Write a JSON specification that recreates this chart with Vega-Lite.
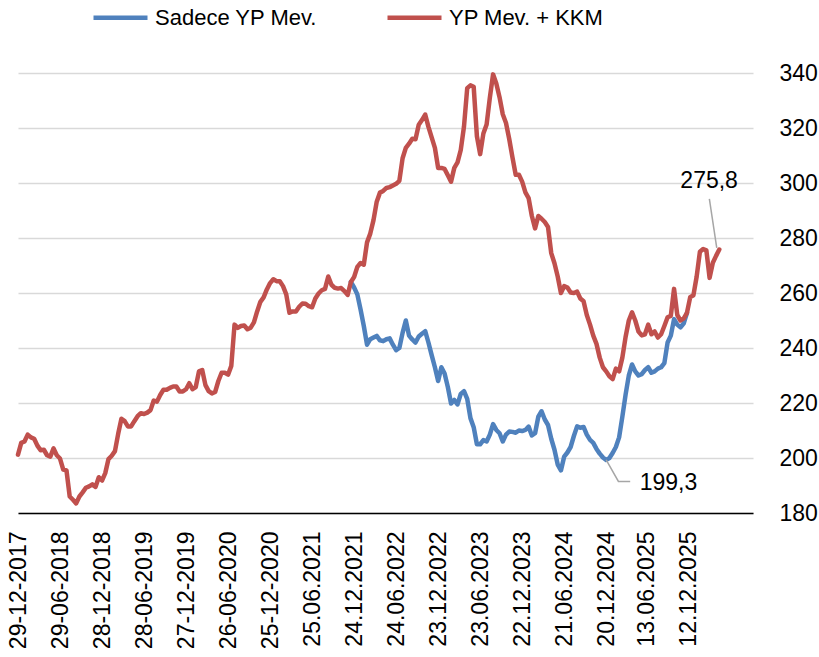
{
  "$schema": "https://vega.github.io/schema/vega-lite/v6.json",
  "autosize": {"type": "none"},
  "width": 735,
  "height": 440,
  "padding": {"left": 18, "right": 66, "top": 73, "bottom": 144},
  "background": "white",
  "config": {
    "view": {"stroke": null},
    "axis": {"labelFont": "Liberation Sans", "labelFontSize": 23, "labelColor": "#000000", "title": null},
    "legend": {"labelFont": "Liberation Sans", "labelFontSize": 22, "labelColor": "#000000", "labelLimit": 400}
  },
  "datasets": {
    "series": [
      {"d":"2017-12-29","r":201.2},{"d":"2018-01-12","r":205.5},{"d":"2018-01-26","r":206},{"d":"2018-02-09","r":208.5},{"d":"2018-02-23","r":207.5},{"d":"2018-03-09","r":207},{"d":"2018-03-23","r":204.5},{"d":"2018-04-06","r":202.8},{"d":"2018-04-20","r":203},{"d":"2018-05-04","r":201},{"d":"2018-05-18","r":200.5},{"d":"2018-06-01","r":203.5},{"d":"2018-06-15","r":201},{"d":"2018-06-29","r":199.8},{"d":"2018-07-13","r":195.8},{"d":"2018-07-27","r":195.5},{"d":"2018-08-10","r":186},{"d":"2018-08-24","r":184.8},{"d":"2018-09-07","r":183.5},{"d":"2018-09-21","r":186},{"d":"2018-10-05","r":187.5},{"d":"2018-10-19","r":189.2},{"d":"2018-11-02","r":189.7},{"d":"2018-11-16","r":190.4},{"d":"2018-11-30","r":189.5},{"d":"2018-12-14","r":193},{"d":"2018-12-28","r":191.8},
      {"d":"2019-01-11","r":194.5},{"d":"2019-01-25","r":199.6},{"d":"2019-02-08","r":200.8},{"d":"2019-02-22","r":202.5},{"d":"2019-03-08","r":208.8},{"d":"2019-03-22","r":214.3},{"d":"2019-04-05","r":213.4},{"d":"2019-04-19","r":211.5},{"d":"2019-05-03","r":211.5},{"d":"2019-05-17","r":213.4},{"d":"2019-05-31","r":215.2},{"d":"2019-06-14","r":216.3},{"d":"2019-06-28","r":216},{"d":"2019-07-12","r":216.5},{"d":"2019-07-26","r":217.4},{"d":"2019-08-09","r":220.9},{"d":"2019-08-23","r":220.5},{"d":"2019-09-06","r":222.9},{"d":"2019-09-20","r":224.8},{"d":"2019-10-04","r":224.8},{"d":"2019-10-18","r":225.5},{"d":"2019-11-01","r":226},{"d":"2019-11-15","r":226},{"d":"2019-11-29","r":224.2},{"d":"2019-12-13","r":224.2},{"d":"2019-12-27","r":225},
      {"d":"2020-01-10","r":227.2},{"d":"2020-01-24","r":225},{"d":"2020-02-07","r":225.8},{"d":"2020-02-21","r":231.5},{"d":"2020-03-06","r":232},{"d":"2020-03-20","r":226.5},{"d":"2020-04-03","r":224.3},{"d":"2020-04-17","r":223.5},{"d":"2020-05-01","r":224},{"d":"2020-05-15","r":228},{"d":"2020-05-29","r":231},{"d":"2020-06-12","r":231},{"d":"2020-06-26","r":230.3},{"d":"2020-07-10","r":233.5},{"d":"2020-07-24","r":248.5},{"d":"2020-08-07","r":247.3},{"d":"2020-08-21","r":248},{"d":"2020-09-04","r":248.2},{"d":"2020-09-18","r":246.8},{"d":"2020-10-02","r":247.4},{"d":"2020-10-16","r":249.3},{"d":"2020-10-30","r":253.3},{"d":"2020-11-13","r":256.8},{"d":"2020-11-27","r":258.4},{"d":"2020-12-11","r":261.3},{"d":"2020-12-25","r":263.6},
      {"d":"2021-01-08","r":265},{"d":"2021-01-22","r":264.3},{"d":"2021-02-05","r":264.3},{"d":"2021-02-19","r":262.5},{"d":"2021-03-05","r":259.5},{"d":"2021-03-19","r":252.8},{"d":"2021-04-02","r":253.3},{"d":"2021-04-16","r":253.3},{"d":"2021-04-30","r":255},{"d":"2021-05-14","r":256.2},{"d":"2021-05-28","r":256.1},{"d":"2021-06-11","r":255.2},{"d":"2021-06-25","r":254.8},{"d":"2021-07-09","r":258},{"d":"2021-07-23","r":259.8},{"d":"2021-08-06","r":261},{"d":"2021-08-20","r":261.5},{"d":"2021-09-03","r":266},{"d":"2021-09-17","r":263},{"d":"2021-10-01","r":261.9},{"d":"2021-10-15","r":261.6},{"d":"2021-10-29","r":261.8},{"d":"2021-11-12","r":260.7},{"d":"2021-11-26","r":259.3},{"d":"2021-12-10","r":264,"b":264},{"d":"2021-12-24","r":265.8,"b":262},
      {"d":"2022-01-07","r":269.5,"b":259.5},{"d":"2022-01-21","r":270.9,"b":254},{"d":"2022-02-04","r":270.3,"b":248},{"d":"2022-02-18","r":278.4,"b":241.2},{"d":"2022-03-04","r":281.6,"b":243.2},{"d":"2022-03-18","r":286.5,"b":243.8},{"d":"2022-04-01","r":293.2,"b":244.4},{"d":"2022-04-15","r":296.5,"b":242.8},{"d":"2022-04-29","r":297.1,"b":242.5},{"d":"2022-05-13","r":298.2,"b":243.2},{"d":"2022-05-27","r":298.5,"b":243.5},{"d":"2022-06-10","r":299.1,"b":241.2},{"d":"2022-06-24","r":299.7,"b":239.2},{"d":"2022-07-08","r":300.8,"b":240},{"d":"2022-07-22","r":309,"b":245.5},{"d":"2022-08-05","r":312.8,"b":250},{"d":"2022-08-19","r":314.3,"b":244.5},{"d":"2022-09-02","r":316.1,"b":243.1},{"d":"2022-09-16","r":315.9,"b":242},{"d":"2022-09-30","r":321.2,"b":244.2},{"d":"2022-10-14","r":322.9,"b":245.2},{"d":"2022-10-28","r":324.9,"b":246.1},{"d":"2022-11-11","r":320.4,"b":242},{"d":"2022-11-25","r":316.6,"b":237.4},{"d":"2022-12-09","r":312.8,"b":233},{"d":"2022-12-23","r":305.5,"b":228},
      {"d":"2023-01-06","r":305.5,"b":233},{"d":"2023-01-20","r":305.1,"b":230.7},{"d":"2023-02-03","r":302.8,"b":225.8},{"d":"2023-02-17","r":300.5,"b":219.8},{"d":"2023-03-03","r":305.5,"b":221.1},{"d":"2023-03-17","r":307.5,"b":219.5},{"d":"2023-03-31","r":312,"b":223.3},{"d":"2023-04-14","r":320.5,"b":224.3},{"d":"2023-04-28","r":334.5,"b":221.5},{"d":"2023-05-12","r":335.5,"b":214.5},{"d":"2023-05-26","r":335,"b":211.2},{"d":"2023-06-09","r":317,"b":205},{"d":"2023-06-23","r":310.5,"b":205},{"d":"2023-07-07","r":318,"b":206.5},{"d":"2023-07-21","r":321.3,"b":206},{"d":"2023-08-04","r":331,"b":208.5},{"d":"2023-08-18","r":339.5,"b":212.3},{"d":"2023-09-01","r":336.2,"b":210.2},{"d":"2023-09-15","r":331.2,"b":209},{"d":"2023-09-29","r":325,"b":206},{"d":"2023-10-13","r":321.8,"b":208.5},{"d":"2023-10-27","r":316,"b":209.6},{"d":"2023-11-10","r":309.3,"b":209.5},{"d":"2023-11-24","r":303,"b":209.2},{"d":"2023-12-08","r":303,"b":210},{"d":"2023-12-22","r":300.5,"b":209.8},
      {"d":"2024-01-05","r":296.6,"b":210.2},{"d":"2024-01-19","r":294.5,"b":211.4},{"d":"2024-02-02","r":288,"b":208.2},{"d":"2024-02-16","r":283.5,"b":209},{"d":"2024-03-01","r":288,"b":215},{"d":"2024-03-15","r":287,"b":217},{"d":"2024-03-29","r":285.8,"b":214},{"d":"2024-04-12","r":284,"b":212},{"d":"2024-04-26","r":274.5,"b":207},{"d":"2024-05-10","r":270.8,"b":203},{"d":"2024-05-24","r":266,"b":197.6},{"d":"2024-06-07","r":260,"b":195.5},{"d":"2024-06-21","r":262.5,"b":200.5},{"d":"2024-07-05","r":262,"b":202},{"d":"2024-07-19","r":260.2,"b":204},{"d":"2024-08-02","r":260,"b":208},{"d":"2024-08-16","r":260.5,"b":211.5},{"d":"2024-08-30","r":258,"b":211},{"d":"2024-09-13","r":257,"b":211.3},{"d":"2024-09-27","r":252,"b":208.5},{"d":"2024-10-11","r":248.5,"b":206.6},{"d":"2024-10-25","r":244.5,"b":205.5},{"d":"2024-11-08","r":241.5,"b":203.3},{"d":"2024-11-22","r":236.5,"b":201.6},{"d":"2024-12-06","r":233,"b":200.2},{"d":"2024-12-20","r":231.5,"b":199.3},
      {"d":"2025-01-03","r":229.7,"b":200},{"d":"2025-01-17","r":228.7,"b":201.8},{"d":"2025-01-31","r":232.5,"b":204},{"d":"2025-02-14","r":231.5,"b":207.5},{"d":"2025-02-28","r":236.5,"b":215},{"d":"2025-03-14","r":244,"b":223},{"d":"2025-03-28","r":250,"b":230},{"d":"2025-04-11","r":253,"b":234},{"d":"2025-04-25","r":250,"b":231.5},{"d":"2025-05-09","r":246,"b":230},{"d":"2025-05-23","r":244.6,"b":230.5},{"d":"2025-06-06","r":245,"b":232},{"d":"2025-06-20","r":248.5,"b":233},{"d":"2025-07-04","r":245,"b":231},{"d":"2025-07-18","r":246,"b":231.5},{"d":"2025-08-01","r":243.8,"b":232.5},{"d":"2025-08-15","r":245,"b":233},{"d":"2025-08-29","r":248,"b":234.5},{"d":"2025-09-12","r":251.2,"b":242},{"d":"2025-09-26","r":251.7,"b":244.5},{"d":"2025-10-10","r":261.5,"b":250.5},{"d":"2025-10-24","r":252,"b":248.5},{"d":"2025-11-07","r":250,"b":247.5},{"d":"2025-11-21","r":250.8,"b":249},{"d":"2025-12-05","r":252.8,"b":252.8},{"d":"2025-12-19","r":258.5},
      {"d":"2026-01-02","r":259.2},{"d":"2026-01-16","r":266},{"d":"2026-01-30","r":275},{"d":"2026-02-13","r":276},{"d":"2026-02-27","r":275.5},{"d":"2026-03-13","r":265.5},{"d":"2026-03-27","r":271},{"d":"2026-04-10","r":273.5},{"d":"2026-04-24","r":275.8}
    ],
    "leaders": [
      {"g":"a","d":"2024-12-20","v":199.3},{"g":"a","d":"2025-02-11","v":191.5},{"g":"a","d":"2025-04-03","v":191.5},
      {"g":"b","d":"2026-03-12","v":294.2},{"g":"b","d":"2026-04-13","v":276.4}
    ],
    "labels": [
      {"d":"2026-03-11","v":298.2,"t":"275,8"},
      {"d":"2025-09-16","v":188.2,"t":"199,3"}
    ]
  },
  "layer": [
    {
      "data": {"name": "series"},
      "mark": {"type": "line", "strokeWidth": 4.5, "strokeCap": "round", "strokeJoin": "round"},
      "encoding": {
        "x": {
          "field": "d", "type": "temporal",
          "scale": {"type": "utc", "domain": [{"year":2017,"month":12,"date":29,"utc":true},{"year":2026,"month":9,"date":17,"utc":true}]},
          "axis": {
            "orient": "bottom", "grid": false, "ticks": false, "domain": true, "domainColor": "#000000", "domainWidth": 1.5,
            "labelAngle": 270, "labelPadding": 18, "labelOverlap": false, "labelFlush": false, "labelBound": false,
            "values": [
              {"year":2017,"month":12,"date":29,"utc":true},{"year":2018,"month":6,"date":29,"utc":true},{"year":2018,"month":12,"date":28,"utc":true},
              {"year":2019,"month":6,"date":28,"utc":true},{"year":2019,"month":12,"date":27,"utc":true},{"year":2020,"month":6,"date":26,"utc":true},
              {"year":2020,"month":12,"date":25,"utc":true},{"year":2021,"month":6,"date":25,"utc":true},{"year":2021,"month":12,"date":24,"utc":true},
              {"year":2022,"month":6,"date":24,"utc":true},{"year":2022,"month":12,"date":23,"utc":true},{"year":2023,"month":6,"date":23,"utc":true},
              {"year":2023,"month":12,"date":22,"utc":true},{"year":2024,"month":6,"date":21,"utc":true},{"year":2024,"month":12,"date":20,"utc":true},
              {"year":2025,"month":6,"date":13,"utc":true},{"year":2025,"month":12,"date":12,"utc":true}
            ],
            "labelExpr": "datum.value < 1622505600000 ? utcFormat(datum.value, '%d-%m-%Y') : utcFormat(datum.value, '%d.%m.%Y')"
          }
        },
        "y": {
          "field": "b", "type": "quantitative",
          "scale": {"domain": [180, 340], "nice": false, "zero": false},
          "axis": {
            "orient": "right", "grid": true, "gridColor": "#d9d9d9", "gridWidth": 1.5, "domain": false, "ticks": false,
            "labelPadding": 26, "labelAlign": "left", "values": [180,200,220,240,260,280,300,320,340]
          }
        },
        "color": {
          "datum": "Sadece YP Mev.",
          "scale": {"domain": ["Sadece YP Mev.", "YP Mev. + KKM"], "range": ["#4f81bd", "#c0504d"]},
          "legend": {
            "orient": "none", "legendX": 73, "legendY": -85, "direction": "horizontal", "title": null,
            "symbolType": "stroke", "symbolSize": 2916, "symbolStrokeWidth": 4.5, "labelOffset": 5, "columnPadding": 60, "padding": 0
          }
        }
      }
    },
    {
      "data": {"name": "series"},
      "mark": {"type": "line", "strokeWidth": 4.5, "strokeCap": "round", "strokeJoin": "round"},
      "encoding": {
        "x": {"field": "d", "type": "temporal"},
        "y": {"field": "r", "type": "quantitative"},
        "color": {"datum": "YP Mev. + KKM"}
      }
    },
    {
      "data": {"name": "leaders"},
      "mark": {"type": "line", "color": "#a6a6a6", "strokeWidth": 1.5},
      "encoding": {
        "x": {"field": "d", "type": "temporal"},
        "y": {"field": "v", "type": "quantitative"},
        "detail": {"field": "g"}
      }
    },
    {
      "data": {"name": "labels"},
      "mark": {"type": "text", "font": "Liberation Sans", "fontSize": 23, "color": "#000000", "align": "center", "baseline": "alphabetic"},
      "encoding": {
        "x": {"field": "d", "type": "temporal"},
        "y": {"field": "v", "type": "quantitative"},
        "text": {"field": "t"}
      }
    }
  ]
}
